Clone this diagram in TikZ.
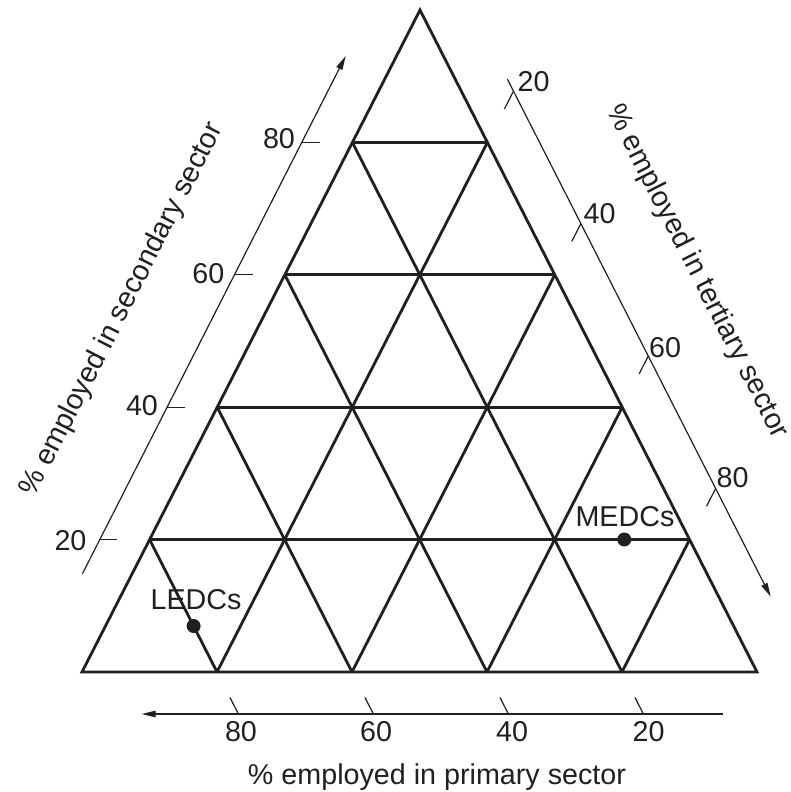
\documentclass[tikz,border=0pt]{standalone}
\usepackage{fontspec}
\setmainfont{Liberation Sans}
\usetikzlibrary{calc,arrows.meta}
\definecolor{ink}{RGB}{35,31,32}
\begin{document}
\begin{tikzpicture}[x=1pt,y=-1pt,
  frame/.style={line width=2.8pt, draw=ink, line join=miter},
  axisline/.style={line width=1.2pt, draw=ink},
  tickline/.style={line width=1.2pt, draw=ink},
  tip/.style={-{Triangle[length=14pt,width=6.5pt]}},
  lab/.style={inner sep=0pt, anchor=base, text=ink, font=\fontsize{28.7}{34}\selectfont},
  dot/.style={circle, fill=ink, draw=none, inner sep=0pt, minimum size=14pt}]
\useasboundingbox (0,0) rectangle (790,792);
% triangle corners
\coordinate (A) at (82,672);
\coordinate (B) at (757,672);
\coordinate (C) at (420,10);
% grid
\foreach \k in {1,2,3,4} {
  \draw[frame] ($(A)!\k/5!(C)$) -- ($(B)!\k/5!(C)$);
  \draw[frame] ($(A)!\k/5!(B)$) -- ($(C)!\k/5!(B)$);
  \draw[frame] ($(A)!\k/5!(B)$) -- ($(A)!\k/5!(C)$);
}
\draw[frame] (A) -- (B) -- (C) -- cycle;
% axes
\coordinate (L0) at (82.3,574);
\coordinate (L1) at (345.7,56);
\draw[axisline, tip] (L0) -- (L1);
\coordinate (R0) at (507.3,79);
\coordinate (R1) at (770.7,596.7);
\draw[axisline, tip] (R0) -- (R1);
\coordinate (P0) at (723.3,714);
\coordinate (P1) at (141.7,714);
\draw[axisline, tip] (P0) -- (P1);
% ticks
\foreach \k in {1,2,3,4} {
  \draw[tickline] ($(A)!\k/5!(C)+(-50.3,0)$) -- ($(A)!\k/5!(C)+(-32.3,0)$);
  \draw[tickline] ($(B)!\k/5!(C)+(26.1,-51.3)$) -- ($(B)!\k/5!(C)+(17.0,-33.4)$);
  \draw[tickline] ($(A)!\k/5!(B)+(21.4,42)$) -- ($(A)!\k/5!(B)+(12.9,25.4)$);
}
% left axis labels
\node[lab] (s20) at (70.5,550) {20};
\node[lab] (s40) at (142,415) {40};
\node[lab] (s60) at (208.3,283) {60};
\node[lab] (s80) at (279,148) {80};
% right axis labels
\node[lab] (t20) at (533.5,92) {20};
\node[lab] (t40) at (599.5,223.5) {40};
\node[lab] (t60) at (665,357) {60};
\node[lab] (t80) at (732.5,487) {80};
% bottom axis labels
\node[lab] (p80) at (241,741.7) {80};
\node[lab] (p60) at (376,741.7) {60};
\node[lab] (p40) at (512,741.7) {40};
\node[lab] (p20) at (648.5,741.7) {20};
% axis titles
\node[lab, rotate=63] (stitle) at (129,313) {\% employed in secondary sector};
\node[lab, rotate=-63] (ttitle) at (690,275) {\% employed in tertiary sector};
\node[lab] (ptitle) at (437,784) {\% employed in primary sector};
% points
\node[dot] (ledc) at (193.6,626) {};
\node[lab] (ledclab) at (196,609) {LEDCs};
\node[dot] (medc) at (624.3,539.5) {};
\node[lab] (medclab) at (625,526.7) {MEDCs};
\end{tikzpicture}
\end{document}
